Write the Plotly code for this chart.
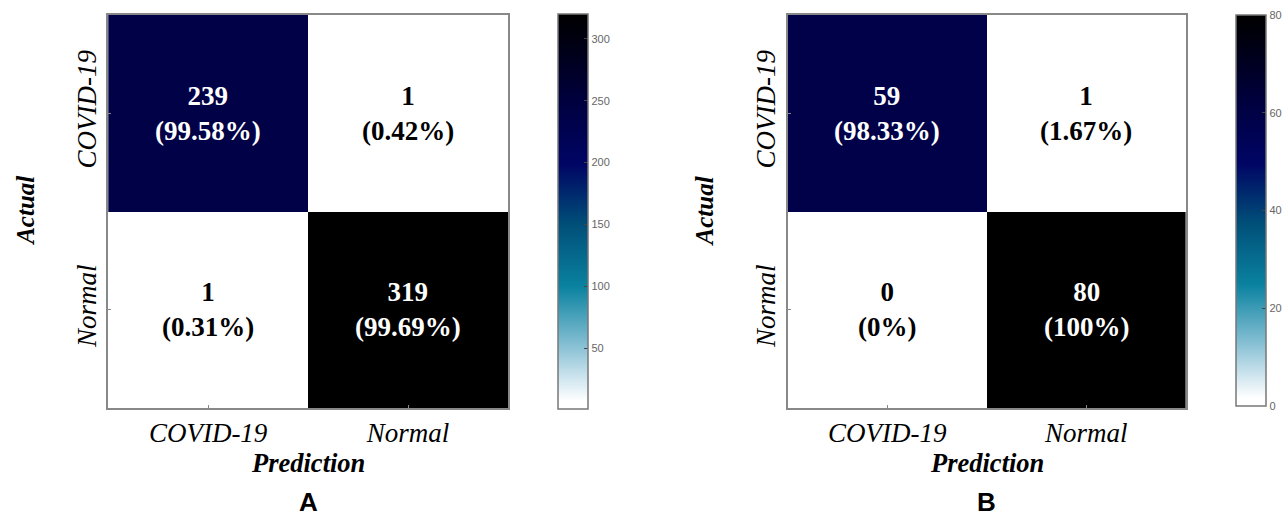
import plotly.graph_objects as go

categories = ["COVID-19", "Normal"]
counts_a = [[239, 1], [1, 319]]
pct_a = [["99.58%", "0.42%"], ["0.31%", "99.69%"]]
counts_b = [[59, 1], [0, 80]]
pct_b = [["98.33%", "1.67%"], ["0%", "100%"]]
cbar_ticks_a = [50, 100, 150, 200, 250, 300]
cbar_ticks_b = [0, 20, 40, 60, 80]
panel_labels = ["A", "B"]

W, H = 1287, 516
colorscale = [
    [0.0, "rgb(255,255,255)"],
    [0.02, "rgb(255,255,255)"],
    [0.08, "rgb(205,228,238)"],
    [0.16, "rgb(135,192,212)"],
    [0.31, "rgb(10,130,160)"],
    [0.47, "rgb(0,78,120)"],
    [0.62, "rgb(0,5,100)"],
    [0.78, "rgb(0,0,62)"],
    [0.94, "rgb(0,0,15)"],
    [1.0, "rgb(0,0,0)"],
]

def px_x(v):
    return v / W

def px_y(v):
    return 1 - v / H

top, bottom = 15, 408
panels = [
    dict(counts=counts_a, pct=pct_a, x0=109, x1=512, cb=562, cbw=30,
         cbt=14, cbb=409, zmin=1, zmax=320, ticks=cbar_ticks_a, xa="x", ya="y"),
    dict(counts=counts_b, pct=pct_b, x0=794, x1=1195, cb=1246, cbw=30,
         cbt=15, cbb=406, zmin=0, zmax=80, ticks=cbar_ticks_b, xa="x2", ya="y2"),
]

fig = go.Figure()
serif = "Liberation Serif, Times New Roman, serif"
annotations = []
for i, p in enumerate(panels):
    fig.add_trace(go.Heatmap(
        z=p["counts"], x=categories, y=categories,
        xaxis=p["xa"], yaxis=p["ya"],
        colorscale=colorscale, zmin=p["zmin"], zmax=p["zmax"],
        showscale=True, hoverinfo="skip",
        colorbar=dict(
            x=px_x(p["cb"]), xanchor="left", xpad=0, ypad=0,
            y=px_y(p["cbt"]), yanchor="top",
            len=(p["cbb"] - p["cbt"]) / H, lenmode="fraction",
            thickness=p["cbw"], thicknessmode="pixels",
            outlinecolor="#777", outlinewidth=1.5,
            tickvals=p["ticks"], ticks="inside", ticklen=4, tickcolor="#444",
            tickfont=dict(family="Liberation Sans, Arial", size=11, color="#666"),
        ),
    ))
    zmax = max(max(r) for r in p["counts"])
    for r, ycat in enumerate(categories):
        for c, xcat in enumerate(categories):
            v = p["counts"][r][c]
            color = "white" if v > zmax * 0.4 else "black"
            annotations.append(dict(
                x=xcat, y=ycat, xref=p["xa"], yref=p["ya"],
                text=f"<b>{v}<br>({p['pct'][r][c]})</b>", showarrow=False,
                font=dict(family=serif, size=27, color=color),
                align="center",
            ))
    cx = (p["x0"] + p["x1"]) / 2
    annotations.append(dict(
        x=px_x(cx), y=px_y(463), xref="paper", yref="paper",
        text="<b><i>Prediction</i></b>", showarrow=False,
        font=dict(family=serif, size=26.5, color="black"),
        xanchor="center", yanchor="middle",
    ))
    annotations.append(dict(
        x=px_x(p["x0"] - 84), y=px_y(211), xref="paper", yref="paper",
        text="<b><i>Actual</i></b>", showarrow=False, textangle=-90,
        font=dict(family=serif, size=25, color="black"),
        xanchor="center", yanchor="middle",
    ))
    annotations.append(dict(
        x=px_x(cx), y=px_y(502), xref="paper", yref="paper",
        text=f"<b>{panel_labels[i]}</b>", showarrow=False,
        font=dict(family="Liberation Sans, Arial", size=26, color="black"),
        xanchor="center", yanchor="middle",
    ))

axis_common = dict(
    showline=True, mirror=True, linecolor="#888", linewidth=1.5,
    ticks="inside", ticklen=3, tickcolor="#888", showgrid=False, zeroline=False,
    tickfont=dict(family=serif, size=27, color="black"),
)

layout = dict(
    width=W, height=H,
    margin=dict(l=0, r=0, t=0, b=0),
    paper_bgcolor="white", plot_bgcolor="white",
    annotations=annotations, showlegend=False,
)
for i, p in enumerate(panels):
    sx = "" if i == 0 else "2"
    layout[f"xaxis{sx}"] = dict(
        domain=[px_x(p["x0"]), px_x(p["x1"])], anchor=f"y{sx}",
        tickprefix="<i>", ticksuffix="</i>", **axis_common,
    )
    layout[f"yaxis{sx}"] = dict(
        domain=[px_y(bottom), px_y(top)], anchor=f"x{sx}",
        autorange="reversed", tickangle=-90,
        tickprefix="<i>", ticksuffix="</i>", **axis_common,
    )
fig.update_layout(**layout)
fig.write_html(
    "out.html", config={"displayModeBar": False},
    post_script=(
        "document.documentElement.style.overflow='hidden';"
        "document.body.style.overflow='hidden';"
        "document.body.style.margin='0';"
        "var d=document.getElementsByClassName('plotly-graph-div')[0];"
        "d.style.position='fixed';d.style.left='0px';d.style.top='0px';"
        "d.style.overflow='hidden';"
    ),
)
